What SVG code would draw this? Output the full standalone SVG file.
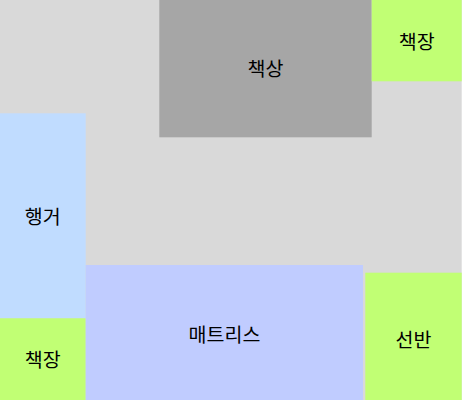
<svg xmlns="http://www.w3.org/2000/svg" width="463" height="400" viewBox="0 0 463 400">
<style>
text{font-family:"Noto Sans CJK KR","Noto Sans",sans-serif;font-size:19.5px;fill:#000;text-anchor:middle;dominant-baseline:central}
.green{fill:#c1ff74}
</style>
<rect x="0" y="0" width="461.7" height="400" fill="#d9d9d9"/>
<g id="desk"><rect x="159.3" y="0" width="212.4" height="137.3" fill="#a6a6a6"/><text x="265.5" y="67.5">책상</text></g>
<g id="bookcase-top"><rect class="green" x="371.7" y="0" width="90" height="81.3"/><text x="416.7" y="40">책장</text></g>
<g id="hanger"><rect x="0" y="113.3" width="85.7" height="205" fill="#c0dcff"/><text x="42.8" y="215.5">행거</text></g>
<g id="bookcase-bottom"><rect class="green" x="0" y="318.3" width="85.7" height="81.7"/><text x="42.8" y="358.5">책장</text></g>
<g id="mattress"><rect x="85.7" y="265" width="277.3" height="135" fill="#c0ccff"/><text x="224.5" y="333.5">매트리스</text></g>
<g id="shelf"><rect class="green" x="365.3" y="272.7" width="96.4" height="127.3" fill="#c1ff74"/><text x="413.5" y="338">선반</text></g>
<g id="connectors"/>
</svg>
